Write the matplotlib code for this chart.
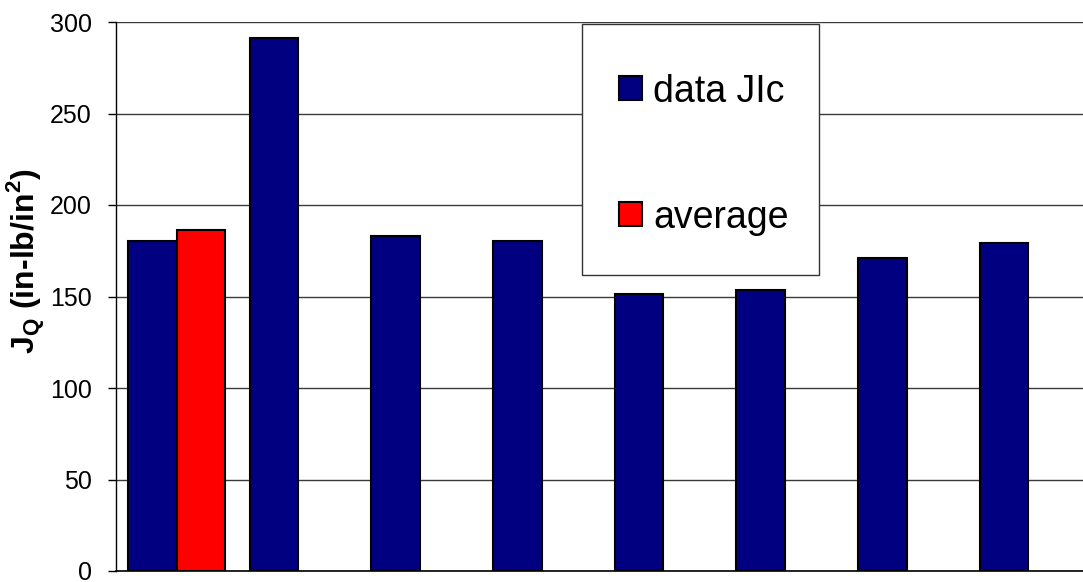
import numpy as np
import matplotlib
matplotlib.use("Agg")
import matplotlib.pyplot as plt
from matplotlib.patches import Rectangle

plt.rcParams['font.family'] = ['Liberation Sans', 'DejaVu Sans']
plt.rcParams['mathtext.fontset'] = 'custom'
plt.rcParams['mathtext.rm'] = 'Liberation Sans'
plt.rcParams['mathtext.bf'] = 'Liberation Sans:bold'

# JQ per specimen, plus the overall average shown next to the first one
specimens = np.arange(8)
data_jic = [180.5, 291.0, 183.0, 180.3, 151.4, 153.4, 171.0, 179.2]
average = [186.3]
yticks = [0, 50, 100, 150, 200, 250, 300]

W, H = 1083, 582
fig = plt.figure(figsize=(W / 100, H / 100), dpi=100)
ax = fig.add_axes([116 / W, 1 - 571 / H, 973 / W, 549 / H])

w = 0.4
ax.bar(specimens - w / 2, data_jic, w, color='#000080', edgecolor='black',
       linewidth=1.5, label='data JIc', zorder=3)
ax.bar(specimens[:len(average)] + w / 2, average, w, color='#ff0000',
       edgecolor='black', linewidth=1.5, label='average', zorder=3)

ax.set_xlim(-0.5, 7.5)
ax.set_ylim(0, 300)
ax.set_yticks(yticks)
ax.set_xticks([])
ax.tick_params(axis='y', labelsize=18, length=5.8, width=1, pad=11.5, direction='out')
ax.yaxis.grid(True, color='#3a3a3a', linewidth=1, zorder=0)
ax.set_axisbelow(True)

for s in ['top', 'right']:
    ax.spines[s].set_visible(False)
ax.spines['left'].set_linewidth(1)
ax.spines['bottom'].set_linewidth(1.2)

ax.set_ylabel(r'J$_\mathbf{Q}$ (in-lb/in$^\mathbf{2}$)', fontsize=23, fontweight='bold')
ax.yaxis.set_label_coords(-0.071, 0.564)

# legend box drawn separately so its size can be fixed
bx, by, bw, bh = 582 / W, 1 - 275 / H, 237 / W, 251 / H
ax.add_patch(Rectangle((bx, by), bw, bh, transform=fig.transFigure,
                       facecolor='white', edgecolor='#333333',
                       linewidth=1, zorder=4, clip_on=False))
leg = ax.legend(loc='center', bbox_to_anchor=(bx + 3 / W, by - 5 / H, bw, bh),
                bbox_transform=fig.transFigure, fontsize=27, frameon=False,
                labelspacing=2.4, borderpad=0, handlelength=0.62,
                handleheight=0.62, handletextpad=0.3, borderaxespad=0)
leg.set_zorder(5)

fig.savefig('out.png', dpi=100)
